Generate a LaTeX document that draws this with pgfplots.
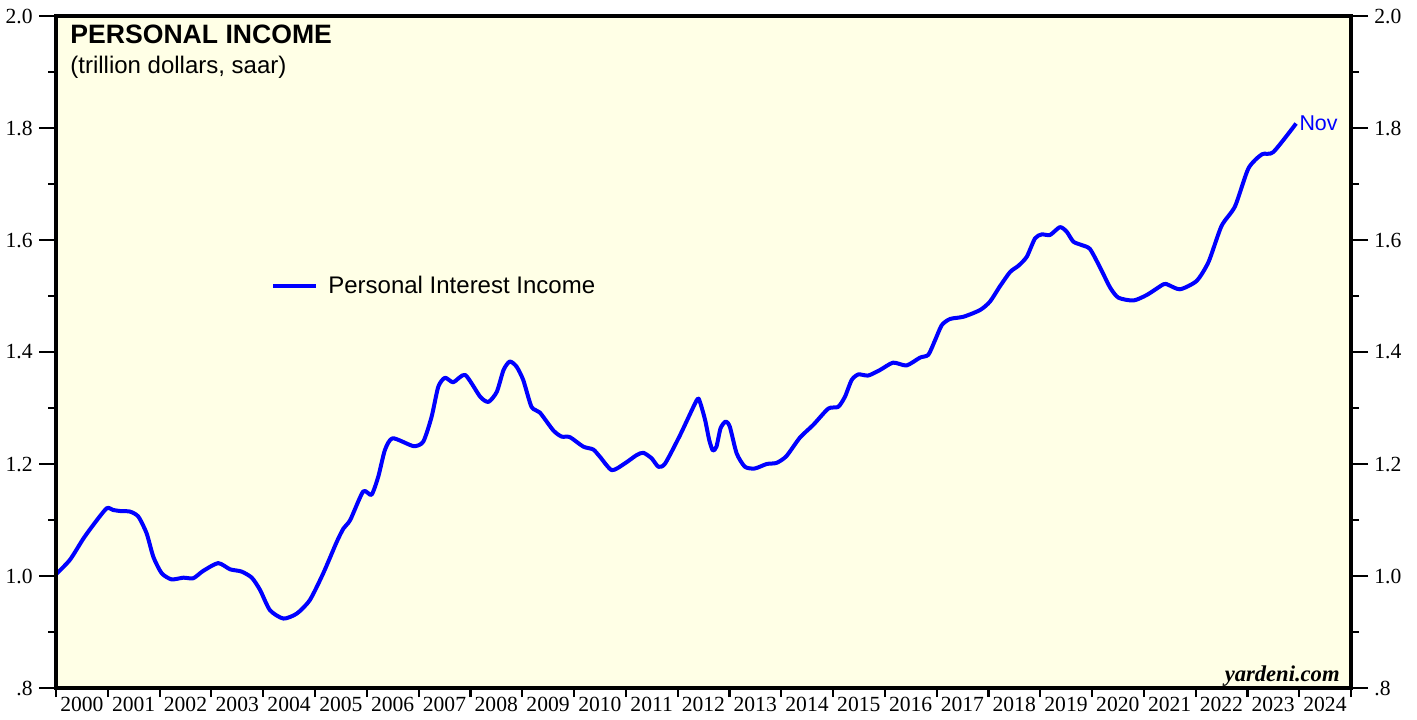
\documentclass[border=0pt]{standalone}
\usepackage{pgfplots}
\pgfplotsset{compat=1.18}
\usepackage{fontspec}
\setmainfont{Liberation Serif}
\newfontfamily\arial{Liberation Sans}
\definecolor{bgyellow}{RGB}{255,255,230}
\definecolor{lineblue}{RGB}{0,0,255}

\pgfplotsset{
  yard/.style={
    width=647.5pt, height=336pt, scale only axis,
    at={(0,0)}, anchor=south west,
    xmin=2000, xmax=2025, ymin=0.8, ymax=2.0,
    tick align=outside,
    axis line style={line width=1.6pt, black, -},
    tick style={line width=1.1pt, black},
    ticklabel style={font=\fontsize{10.8}{12}\selectfont},
  },
  ylabs/.style={
    ytick={0.8,1.0,1.2,1.4,1.6,1.8,2.0},
    yticklabels={.8,1.0,1.2,1.4,1.6,1.8,2.0},
    minor ytick={0.9,1.1,1.3,1.5,1.7,1.9},
    major tick length=8.5pt, minor tick length=4pt,
    yticklabel style={inner sep=3pt},
    hide x axis,
  },
}

\begin{document}
\begin{tikzpicture}
\useasboundingbox (-28pt,-15.5pt) rectangle (680.5pt,344pt);

\begin{axis}[yard,
  axis background/.style={fill=bgyellow},
  xtick={2000,2001,...,2025}, xticklabels={},
  xtick pos=bottom, ytick=\empty,
  major tick length=4.5pt,
  extra x ticks={2000.5,2001.5,...,2024.5},
  extra x tick labels={2000,2001,2002,2003,2004,2005,2006,2007,2008,2009,2010,2011,2012,2013,2014,2015,2016,2017,2018,2019,2020,2021,2022,2023,2024},
  extra x tick style={major tick style={draw=none}, xticklabel style={inner sep=0pt}},
  legend style={at={(axis cs:2004.15,1.518)}, anchor=west, draw=none, fill=none,
    font=\arial\fontsize{12}{14}\selectfont, inner sep=0pt},
  legend image code/.code={\draw[#1] (0pt,0pt) -- (21.5pt,0pt);},
]
\addplot[color=lineblue, line width=2pt, smooth, tension=0.4, line join=round] coordinates {
(2000.00,1.003) (2000.27,1.029) (2000.53,1.067) (2000.75,1.095) (2000.98,1.121)
(2001.10,1.118) (2001.24,1.116) (2001.43,1.115) (2001.59,1.106) (2001.75,1.076)
(2001.88,1.034) (2002.04,1.005) (2002.23,0.994) (2002.46,0.997) (2002.65,0.996)
(2002.84,1.009) (2003.13,1.023) (2003.36,1.012) (2003.58,1.008) (2003.78,0.997)
(2003.94,0.975) (2004.13,0.939) (2004.39,0.924) (2004.65,0.933) (2004.90,0.957)
(2005.16,1.005) (2005.42,1.061) (2005.55,1.085) (2005.68,1.100) (2005.93,1.151)
(2006.09,1.145) (2006.22,1.177) (2006.35,1.225) (2006.50,1.246) (2006.90,1.232)
(2007.09,1.240) (2007.25,1.284) (2007.38,1.338) (2007.51,1.354) (2007.67,1.346)
(2007.90,1.359) (2008.19,1.320) (2008.35,1.311) (2008.51,1.329) (2008.64,1.368)
(2008.76,1.383) (2008.89,1.374) (2009.02,1.350) (2009.18,1.302) (2009.34,1.292)
(2009.60,1.260) (2009.76,1.249) (2009.92,1.248) (2010.18,1.231) (2010.37,1.226)
(2010.50,1.213) (2010.73,1.189) (2010.98,1.201) (2011.21,1.216) (2011.34,1.220)
(2011.50,1.210) (2011.63,1.195) (2011.76,1.201) (2012.05,1.252) (2012.37,1.314)
(2012.43,1.311) (2012.53,1.279) (2012.61,1.243) (2012.68,1.224) (2012.75,1.231)
(2012.83,1.264) (2012.93,1.276) (2013.01,1.266) (2013.14,1.219) (2013.30,1.195)
(2013.49,1.192) (2013.72,1.200) (2013.91,1.202) (2014.10,1.214) (2014.36,1.247)
(2014.62,1.270) (2014.91,1.299) (2015.10,1.302) (2015.23,1.320) (2015.36,1.350)
(2015.49,1.360) (2015.68,1.358) (2015.91,1.368) (2016.16,1.381) (2016.42,1.376)
(2016.68,1.390) (2016.84,1.395) (2016.97,1.421) (2017.10,1.448) (2017.26,1.459)
(2017.52,1.463) (2017.84,1.475) (2018.03,1.490) (2018.22,1.517) (2018.42,1.543)
(2018.58,1.554) (2018.74,1.570) (2018.90,1.603) (2019.03,1.610) (2019.19,1.609)
(2019.38,1.623) (2019.51,1.615) (2019.64,1.597) (2019.80,1.591) (2019.96,1.584)
(2020.15,1.552) (2020.35,1.515) (2020.51,1.497) (2020.80,1.492) (2021.06,1.502)
(2021.38,1.521) (2021.47,1.520) (2021.70,1.512) (2022.02,1.527) (2022.25,1.561)
(2022.50,1.625) (2022.76,1.660) (2023.02,1.728) (2023.28,1.753) (2023.50,1.757)
(2023.94,1.808)
};
\addlegendentry{\hspace{3pt}Personal Interest Income}
\node[anchor=west, text=lineblue, font=\arial\fontsize{10.7}{12}\selectfont, inner sep=1.5pt]
  at (axis cs:2023.94,1.808) {Nov};
\end{axis}

% left y axis
\begin{axis}[yard, ylabs, axis y line*=left]
\end{axis}
% right y axis
\begin{axis}[yard, ylabs, axis y line*=right]
\end{axis}

\node[anchor=base west, inner sep=0pt, font=\arial\bfseries\fontsize{13.3}{15}\selectfont]
  at (7pt,322pt) {PERSONAL INCOME};
\node[anchor=base west, inner sep=0pt, font=\arial\fontsize{12}{14}\selectfont]
  at (7pt,307pt) {(trillion dollars, saar)};
\node[anchor=base east, inner sep=0pt, font=\bfseries\itshape\fontsize{11.3}{13}\selectfont]
  at (642pt,3.5pt) {yardeni.com};
\end{tikzpicture}
\end{document}
